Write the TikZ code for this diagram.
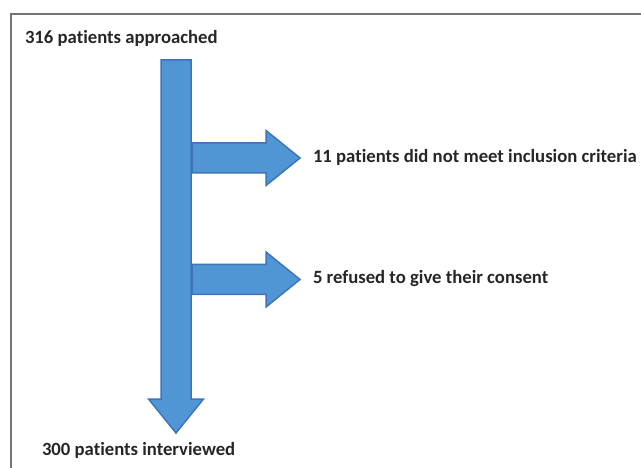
\documentclass[tikz,border=0pt]{standalone}
\usepackage{fontspec}
\setmainfont{Carlito}[Ligatures={NoCommon,NoRequired}]
\usetikzlibrary{calc}
\definecolor{flowfill}{RGB}{80,150,212}
\definecolor{flowedge}{RGB}{62,116,186}
\newcommand{\fatarrow}[2]{%
\draw[flow] let \p1=($(#2)-(#1)$), \n1={atan2(\y1,\x1)}, \n2={veclen(\x1,\y1)} in
 [shift={(#1)},rotate=\n1] (0,-15) -- (\n2-34,-15) -- (\n2-34,-27.5) -- (\n2,0)
 -- (\n2-34,27.5) -- (\n2-34,15) -- (0,15) -- cycle;}

\begin{document}
\begin{tikzpicture}[x=1pt,y=-1pt,inner sep=0pt,outer sep=0pt,
flowtext/.style={font=\bfseries\fontsize{18.7}{22}\selectfont,text=black!85,anchor=west},
flow/.style={fill=flowfill,draw=flowedge,line width=1.5pt,line join=miter}]
\useasboundingbox (0,0) rectangle (641,468);
\draw[gray!90!black,line width=2pt] (11,470) -- (11,14) -- (643,14);
\node[flowtext] (approached) at (25,38) {316 patients approached};
\node[flowtext] (excluded) at (313,157) {11 patients did not meet inclusion criteria};
\node[flowtext] (refused) at (313,279) {5 refused to give their consent};
\node[flowtext] (interviewed) at (42,450) {300 patients interviewed};
\coordinate (main top) at (176,60);
\coordinate (main tip) at (176,433);
\coordinate (excl foot) at (192,158);
\coordinate (excl tip) at (300,158);
\coordinate (ref foot) at (192,279.5);
\coordinate (ref tip) at (300,279.5);
% main flow and the two drop-outs
\fatarrow{main top}{main tip}
\fatarrow{excl foot}{excl tip}
\fatarrow{ref foot}{ref tip}
\end{tikzpicture}
\end{document}
